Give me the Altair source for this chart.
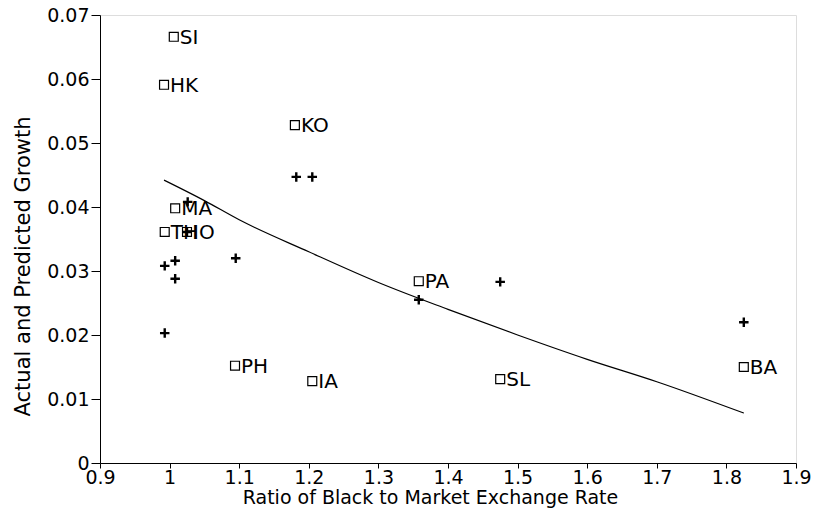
import altair as alt
import pandas as pd

# Actual growth (squares, labelled)
countries = ["SI", "HK", "KO", "MA", "TH", "IO", "PH", "IA", "PA", "SL", "BA"]
actual_x = [1.006, 0.992, 1.180, 1.008, 0.993, 1.025, 1.094, 1.205, 1.358, 1.475, 1.825]
actual_y = [0.0666, 0.0591, 0.0528, 0.0398, 0.0361, 0.0361, 0.0152, 0.0128, 0.0284, 0.0131, 0.0150]

# Predicted growth (plus markers)
pred_x = [1.825, 1.475, 1.358, 1.182, 1.205, 1.095, 0.993, 1.008, 1.008, 0.993, 1.026, 1.025]
pred_y = [0.0220, 0.0283, 0.0255, 0.0447, 0.0447, 0.0320, 0.0308, 0.0316, 0.0288, 0.0203, 0.0408, 0.0361]

# Fitted curve
fit_x = [0.992, 1.05, 1.1, 1.2, 1.3, 1.4, 1.5, 1.6, 1.7, 1.825]
fit_y = [0.0442, 0.0410, 0.0380, 0.0330, 0.0282, 0.0240, 0.0200, 0.0162, 0.0127, 0.0078]

x_ticks = [0.9, 1.0, 1.1, 1.2, 1.3, 1.4, 1.5, 1.6, 1.7, 1.8, 1.9]
y_ticks = [0, 0.01, 0.02, 0.03, 0.04, 0.05, 0.06, 0.07]

actual = pd.DataFrame({"c": countries, "x": actual_x, "y": actual_y})
pred = pd.DataFrame({"x": pred_x, "y": pred_y})
fit = pd.DataFrame({"x": fit_x, "y": fit_y})

FONT = "DejaVu Sans"

xs = alt.Scale(domain=[0.9, 1.9], nice=False, zero=False)
ys = alt.Scale(domain=[0, 0.07], nice=False)

xenc = alt.X("x:Q", scale=xs, title="Ratio of Black to Market Exchange Rate",
             axis=alt.Axis(values=x_ticks, labelExpr="format(datum.value, '.2~f')",
                           grid=False, tickSize=5, domainColor="black", tickColor="black",
                           labelFontSize=19, titleFontSize=19, labelFont=FONT, titleFont=FONT,
                           titleFontWeight="normal", labelColor="black", titleColor="black",
                           labelPadding=0, titleX=330, titleY=34, titleBaseline="middle",
                           labelFlush=False))
yenc = alt.Y("y:Q", scale=ys, title="Actual and Predicted Growth",
             axis=alt.Axis(values=y_ticks, labelExpr="format(datum.value, '.2~f')",
                           grid=False, tickSize=9, domainColor="black", tickColor="black",
                           labelFontSize=19, titleFontSize=21, labelFont=FONT, titleFont=FONT,
                           titleFontWeight="normal", labelColor="black", titleColor="black",
                           labelPadding=2, titleX=-77, titleY=251, titleBaseline="middle",
                           titleAngle=270, labelFlush=False))

line = alt.Chart(fit).mark_line(color="black", strokeWidth=1.2, interpolate="monotone").encode(x=xenc, y=yenc)

squares = alt.Chart(actual).mark_point(shape="square", filled=False, color="black",
                                       strokeWidth=1.2, size=80, opacity=1).encode(x=xenc, y=yenc)

labels = alt.Chart(actual).mark_text(align="left", baseline="middle", dx=6, dy=1,
                                     fontSize=20, font=FONT, color="black").encode(
    x=xenc, y=yenc, text="c:N")

plus = alt.Chart(pred).mark_point(shape="M-1,0L1,0M0,-1L0,1", filled=False, color="black",
                                  strokeWidth=2.4, size=90, opacity=1).encode(x=xenc, y=yenc)

chart = alt.layer(line, squares, labels, plus).properties(
    width=696, height=448,
    autosize=alt.AutoSizeParams(type="none"),
    padding={"left": 92, "top": 7, "right": 15, "bottom": 50},
).configure_view(stroke="black", strokeWidth=1).configure(background="white")

chart.save("out.html", embed_options={"renderer": "svg", "actions": False})
